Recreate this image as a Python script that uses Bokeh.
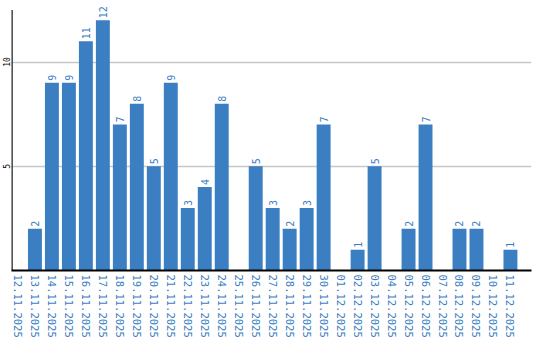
from bokeh.plotting import figure
from bokeh.models import ColumnDataSource, FixedTicker, Range1d
from bokeh.core.properties import value
from bokeh.embed import file_html
from bokeh.resources import INLINE

dates = ["12.11.2025", "13.11.2025", "14.11.2025", "15.11.2025", "16.11.2025",
         "17.11.2025", "18.11.2025", "19.11.2025", "20.11.2025", "21.11.2025",
         "22.11.2025", "23.11.2025", "24.11.2025", "25.11.2025", "26.11.2025",
         "27.11.2025", "28.11.2025", "29.11.2025", "30.11.2025", "01.12.2025",
         "02.12.2025", "03.12.2025", "04.12.2025", "05.12.2025", "06.12.2025",
         "07.12.2025", "08.12.2025", "09.12.2025", "10.12.2025", "11.12.2025"]
counts = [0, 2, 9, 9, 11, 12, 7, 8, 5, 9, 3, 4, 8, 0, 5, 3, 2, 3, 7, 0,
          1, 5, 0, 2, 7, 0, 2, 2, 0, 1]
y_ticks = [5, 10]
y_axis_top = 12.5

BLUE = "#3b7ec2"
idx = list(range(len(dates)))
src = ColumnDataSource(dict(x=idx, top=counts))
nz = [i for i, c in enumerate(counts) if c > 0]
lab = ColumnDataSource(dict(x=nz, y=[counts[i] for i in nz],
                            t=[str(counts[i]) for i in nz]))

xr = Range1d(-0.38, 30.24)
p = figure(width=540, height=340, output_backend="svg", toolbar_location=None,
           x_range=xr, y_range=Range1d(0, 12.95),
           min_border_left=0, min_border_right=9, min_border_top=0, min_border_bottom=0)
p.outline_line_color = None
p.background_fill_color = "white"

p.xgrid.visible = False
p.ygrid.ticker = FixedTicker(ticks=y_ticks)
p.ygrid.grid_line_color = "#c8c8c8"
p.ygrid.grid_line_width = 1.5

p.vbar(x="x", top="top", width=0.82, source=src, color=BLUE, line_color=None)
p.text(x="x", y="y", text="t", source=lab, angle=1.5708, text_align="left",
       text_baseline="middle", y_offset=-2, text_color=BLUE,
       text_font=value("DejaVu Sans Mono"), text_font_size="10px")
# y axis line (only up to the axis top, as in the original)
p.segment(x0=[xr.start + 0.025], y0=[0], x1=[xr.start + 0.025], y1=[y_axis_top],
          line_color="black", line_width=1.5)

xa = p.xaxis[0]
xa.ticker = FixedTicker(ticks=idx)
xa.major_label_overrides = {i: d for i, d in enumerate(dates)}
xa.major_label_orientation = "vertical"
xa.major_label_text_color = BLUE
xa.major_label_text_font = "DejaVu Sans Mono"
xa.major_label_text_font_size = "10.5px"
xa.major_tick_line_color = None
xa.minor_tick_line_color = None
xa.major_label_standoff = -2
xa.axis_line_color = "black"
xa.axis_line_width = 2

ya = p.yaxis[0]
ya.ticker = FixedTicker(ticks=y_ticks)
ya.major_label_orientation = "vertical"
ya.major_label_text_color = "black"
ya.major_label_text_font = "DejaVu Sans Mono"
ya.major_label_text_font_size = "8px"
ya.major_tick_line_color = None
ya.minor_tick_line_color = None
ya.major_label_standoff = -5
ya.axis_line_color = None

open("out.html", "w").write(file_html(p, INLINE))
